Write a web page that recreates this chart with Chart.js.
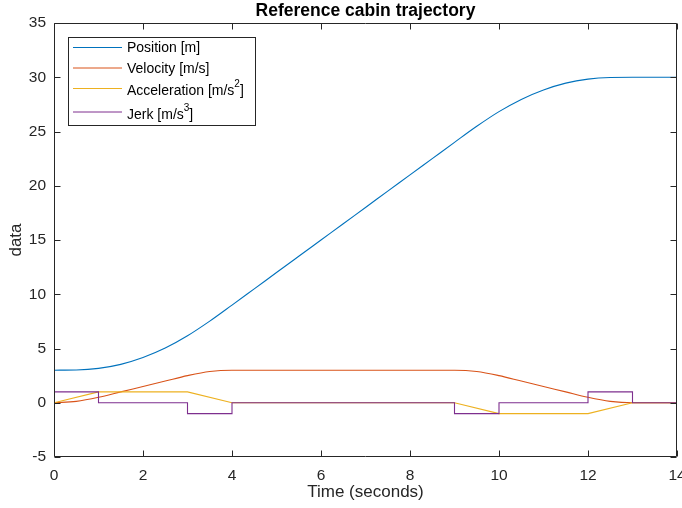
<!DOCTYPE html>
<html>
<head>
<meta charset="utf-8">
<script src="https://cdn.jsdelivr.net/npm/chart.js@4/dist/chart.umd.min.js"></script>
<style>
  html, body { margin: 0; padding: 0; background: #fff; }
  #wrap { width: 682px; height: 508px; }
</style>
</head>
<body>
<div id="wrap"><canvas id="chart" width="682" height="508"></canvas></div>
<script>
// values
const timeFine = [0, 0.5, 1, 1.5, 2, 2.5, 3, 3.5, 4, 4.5, 5, 5.5, 6, 6.5, 7, 7.5, 8, 8.5, 9, 9.5, 10, 10.5, 11, 11.5, 12, 12.5, 13, 13.5, 14];
const position = [3, 3.02, 3.17, 3.54, 4.17, 5.04, 6.17, 7.52, 9, 10.5, 12, 13.5, 15, 16.5, 18, 19.5, 21, 22.5, 24, 25.48, 26.83, 27.96, 28.83, 29.46, 29.83, 29.98, 30, 30, 30];
const velocity = [0, 0.13, 0.5, 1, 1.5, 2, 2.5, 2.88, 3, 3, 3, 3, 3, 3, 3, 3, 3, 3, 3, 2.88, 2.5, 2, 1.5, 1, 0.5, 0.13, 0, 0, 0];
const timeBreaks = [0, 1, 3, 4, 9, 10, 12, 13, 14];
const acceleration = [0, 1, 1, 0, 0, -1, -1, 0, 0];
const jerk = [1, 0, -1, 0, -1, 0, 1, 0, 0];

const seriesNames = ['Position [m]', 'Velocity [m/s]', 'Acceleration [m/s²]', 'Jerk [m/s³]'];
const seriesColors = ['#0072BD', '#D95319', '#EDB120', '#7E2F8E'];
const xTicks = [0, 2, 4, 6, 8, 10, 12, 14];
const yTicks = [-5, 0, 5, 10, 15, 20, 25, 30, 35];

const FONT = '"Liberation Sans", Arial, Helvetica, sans-serif';
const AXIS = '#262626';

const pts = (xs, ys) => xs.map((x, i) => ({ x: x, y: ys[i] }));

// draw "m/s²" style labels with a raised small digit
function drawLabel(ctx, text, x, y) {
    let cx = x;
    for (const part of text.match(/[²³]|[^²³]+/g)) {
        if (part === '²' || part === '³') {
            const s = part === '²' ? '2' : '3';
            ctx.font = '10px ' + FONT;
            ctx.fillText(s, cx, y - 7);
            cx += ctx.measureText(s).width;
        } else {
            ctx.font = '14px ' + FONT;
            ctx.fillText(part, cx, y);
            cx += ctx.measureText(part).width;
        }
    }
}

const matlabFrame = {
    id: 'matlabFrame',
    afterDraw(chart) {
        const { ctx, chartArea: a, scales } = chart;
        const L = Math.round(a.left) + 0.5, R = Math.round(a.right) - 0.5;
        const T = Math.round(a.top) + 0.5, B = Math.round(a.bottom) - 0.5;
        const tl = 6;
        ctx.save();
        ctx.strokeStyle = AXIS;
        ctx.lineWidth = 1;
        ctx.beginPath();
        ctx.rect(L, T, R - L, B - T);
        xTicks.forEach(v => {
            const px = Math.round(scales.x.getPixelForValue(v)) + 0.5;
            ctx.moveTo(px, B); ctx.lineTo(px, B - tl);
            ctx.moveTo(px, T); ctx.lineTo(px, T + tl);
        });
        yTicks.forEach(v => {
            const py = Math.round(scales.y.getPixelForValue(v)) + 0.5;
            ctx.moveTo(L, py); ctx.lineTo(L + tl, py);
            ctx.moveTo(R, py); ctx.lineTo(R - tl, py);
        });
        ctx.stroke();

        // legend box
        const lx = 68.5, ly = 37.5, lw = 187, lh = 88;
        ctx.fillStyle = '#fff';
        ctx.fillRect(lx, ly, lw, lh);
        ctx.strokeRect(lx, ly, lw, lh);
        const rowY = [47.5, 68, 88.5, 112];
        ctx.textBaseline = 'middle';
        ctx.textAlign = 'left';
        seriesNames.forEach((name, i) => {
            ctx.strokeStyle = seriesColors[i];
            ctx.beginPath();
            ctx.moveTo(73, rowY[i]);
            ctx.lineTo(122, rowY[i]);
            ctx.stroke();
            ctx.fillStyle = '#000';
            const shift = /[²³]/.test(name) ? 3 : 1;
            drawLabel(ctx, name, 127, rowY[i] + shift);
        });
        ctx.restore();
    }
};

const datasets = [
    { label: seriesNames[0], data: pts(timeFine, position), borderColor: seriesColors[0], cubicInterpolationMode: 'monotone', order: 4 },
    { label: seriesNames[1], data: pts(timeFine, velocity), borderColor: seriesColors[1], cubicInterpolationMode: 'monotone', order: 3 },
    { label: seriesNames[2], data: pts(timeBreaks, acceleration), borderColor: seriesColors[2], order: 2 },
    { label: seriesNames[3], data: pts(timeBreaks, jerk), borderColor: seriesColors[3], stepped: 'before', order: 1 }
].map(d => Object.assign({ borderWidth: 1.1, pointRadius: 0, fill: false }, d));

new Chart(document.getElementById('chart'), {
    type: 'line',
    data: { datasets: datasets },
    options: {
        responsive: false,
        animation: false,
        layout: { padding: { left: 0, right: 5, top: 0, bottom: 0 } },
        plugins: {
            legend: { display: false },
            tooltip: { enabled: false },
            title: {
                display: true,
                text: 'Reference cabin trajectory',
                color: '#000',
                fullSize: false,
                font: { family: FONT, size: 17.5, weight: 'bold' },
                padding: { top: 1, bottom: 1 }
            }
        },
        scales: {
            x: {
                type: 'linear',
                min: 0, max: 14,
                afterFit: s => { s.height = 51; s.paddingLeft = 0; s.paddingRight = 0; },
                afterBuildTicks: s => { s.ticks = xTicks.map(v => ({ value: v })); },
                grid: { display: false, drawTicks: false },
                border: { display: false },
                ticks: { color: AXIS, padding: 9, maxRotation: 0, font: { family: FONT, size: 15.5 } },
                title: { display: true, text: 'Time (seconds)', color: AXIS, padding: { top: 0, bottom: 5 }, font: { family: FONT, size: 17 } }
            },
            y: {
                min: -5, max: 35,
                afterFit: s => { s.width = 54; },
                afterBuildTicks: s => { s.ticks = yTicks.map(v => ({ value: v })); },
                grid: { display: false, drawTicks: false },
                border: { display: false },
                ticks: { color: AXIS, padding: 8, font: { family: FONT, size: 15.5 } },
                title: { display: true, text: 'data', color: AXIS, padding: { top: 6, bottom: 0 }, font: { family: FONT, size: 17 } }
            }
        }
    },
    plugins: [matlabFrame]
});
</script>
</body>
</html>
